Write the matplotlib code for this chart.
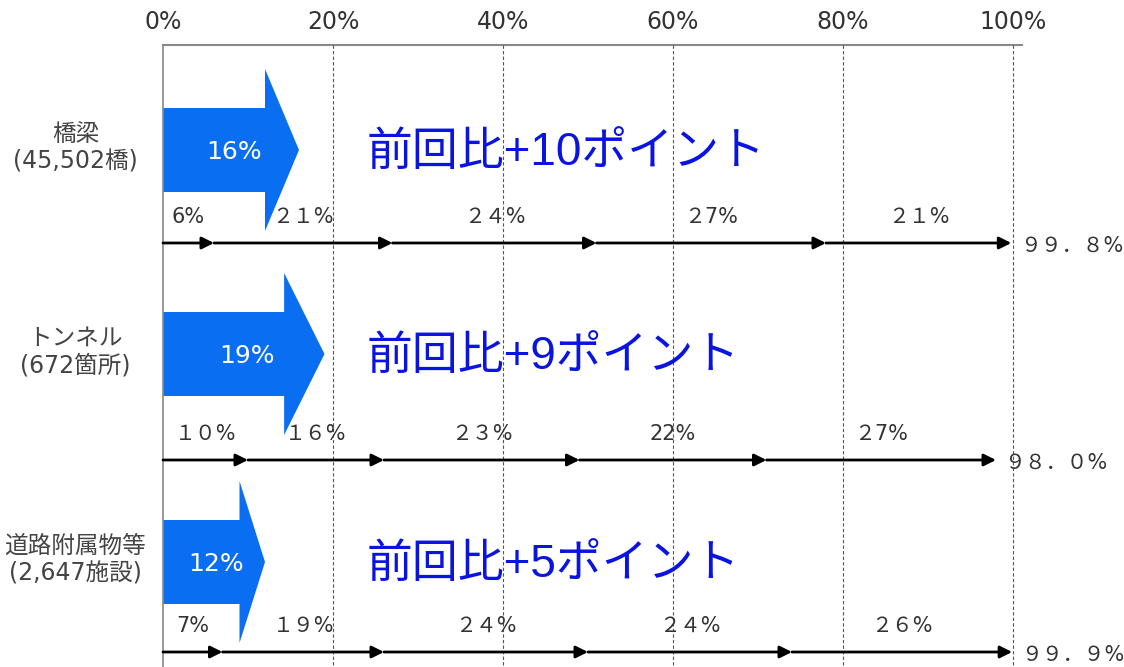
import matplotlib
matplotlib.use('Agg')
import numpy as np
import matplotlib.pyplot as plt
from matplotlib.patches import FancyArrow

plt.rcParams['font.family'] = ['DejaVu Sans', 'Noto Sans CJK JP']

# datos
rows     = ['橋梁\n(45,502橋)', 'トンネル\n(672箇所)', '道路附属物等\n(2,647施設)']
pct_now  = [16, 19, 12]                       # flecha azul
pct_lbl  = ['16%', '19%', '12%']
delta    = ['前回比+10ポイント', '前回比+9ポイント', '前回比+5ポイント']
segs     = [[6, 21, 24, 27, 21],
            [10, 16, 23, 22, 27],
            [7, 19, 24, 24, 26]]
seg_lbl  = [['6%', '２１%', '２４%', '２7%', '２１%'],
            ['１０%', '１６%', '２３%', '22%', '２7%'],
            ['7%', '１９%', '２４%', '２４%', '２６%']]
totals   = [99.8, 98.0, 99.9]
tot_lbl  = ['９９．８%', '９８．０%', '９９．９%']
xticks   = [0, 20, 40, 60, 80, 100]

# layout (pixel-like y, 0 = top border)
row_y    = [105, 309, 517]     # centro flecha azul
line_y   = [198, 415, 607]     # linea acumulada
blue     = '#0a6ef2'
grey     = '#444444'

fig = plt.figure(figsize=(11.24, 6.67), dpi=100)
ax = fig.add_axes([163/1124, 0, 850/1124, 622/667])
ax.set_xlim(0, 100)
ax.set_ylim(622, 0)
ax.axis('off')

# bordes y grilla
ax.plot([0, 0], [0, 622], color='#888888', lw=1.2, clip_on=False)
ax.plot([0, 101], [0, 0], color='#888888', lw=1.5, clip_on=False)
for xv in xticks[1:]:
    ax.plot([xv, xv], [0, 622], color='#555555', lw=0.8, ls=(0, (3, 2)), clip_on=False)
for xv in xticks:
    ax.text(xv, -23, '%d%%' % xv, ha='center', va='center', fontsize=17,
            color='#333333')

for i in range(len(rows)):
    yc = row_y[i]
    v = pct_now[i]
    ax.add_patch(FancyArrow(0, yc, v, 0, width=84, head_width=162,
                            head_length=v * 0.25, length_includes_head=True,
                            color=blue, lw=0))
    ax.text(v * 0.52, yc + 2, pct_lbl[i], ha='center', va='center',
            fontsize=18, color='white')
    ax.text(24, yc + 3, delta[i], ha='left', va='center', fontsize=33,
            color='#0a14e0', family=['Liberation Sans', 'Noto Sans CJK JP'])
    ax.text(-10.3, yc - 2, rows[i], ha='center', va='center', fontsize=17,
            color=grey, linespacing=1.2, clip_on=False)

    # linea acumulada
    ends = list(np.cumsum(segs[i]).astype(float))
    ends[-1] = totals[i]
    starts = [0] + ends[:-1]
    ly = line_y[i]
    for s, e, lab in zip(starts, ends, seg_lbl[i]):
        ax.annotate('', xy=(e, ly), xytext=(s, ly),
                    arrowprops=dict(arrowstyle='-|>', color='black', lw=2,
                                    mutation_scale=18, shrinkA=0, shrinkB=0))
        ax.text((s + e) / 2, ly - 26, lab, ha='center', va='center',
                fontsize=15, color='#333333')
    ax.text(totals[i] + 1.0, ly + 3, tot_lbl[i], ha='left', va='center',
            fontsize=15, color='#333333', clip_on=False)

fig.savefig('out.png', dpi=100, facecolor='white')
